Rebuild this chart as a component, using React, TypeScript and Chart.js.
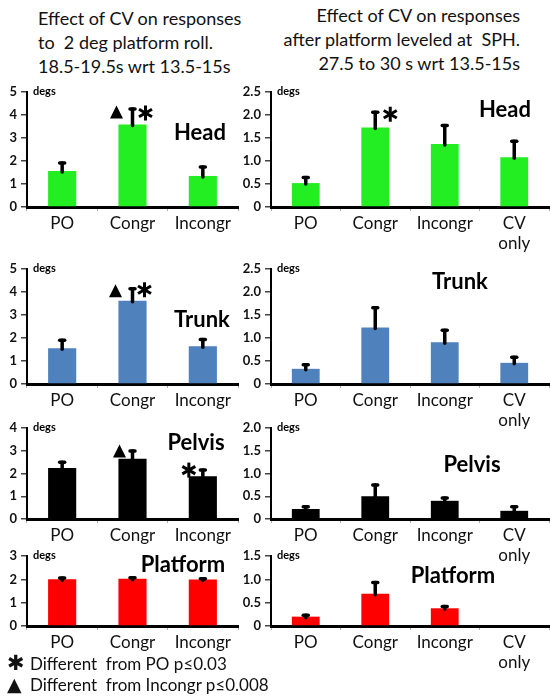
import React, { useEffect, useRef } from 'react';
import { Chart, registerables } from 'chart.js';

Chart.register(...registerables);

// categories
const leftCats = ['PO', 'Congr', 'Incongr'];
const rightCats = ['PO', 'Congr', 'Incongr', ['CV', 'only']];

// means (degs) and upper error (se)
const headLeftMeans = [1.57, 3.59, 1.35];
const headLeftSe = [0.34, 0.67, 0.39];
const headRightMeans = [0.52, 1.73, 1.37, 1.08];
const headRightSe = [0.12, 0.33, 0.4, 0.35];

const trunkLeftMeans = [1.55, 3.62, 1.64];
const trunkLeftSe = [0.35, 0.52, 0.29];
const trunkRightMeans = [0.33, 1.23, 0.91, 0.46];
const trunkRightSe = [0.09, 0.43, 0.26, 0.12];

const pelvisLeftMeans = [2.24, 2.65, 1.88];
const pelvisLeftSe = [0.26, 0.34, 0.27];
const pelvisRightMeans = [0.22, 0.5, 0.4, 0.18];
const pelvisRightSe = [0.05, 0.25, 0.06, 0.09];

const platformLeftMeans = [2.0, 2.02, 1.99];
const platformLeftSe = [0.06, 0.05, 0.03];
const platformRightMeans = [0.2, 0.69, 0.38, 0];
const platformRightSe = [0.03, 0.24, 0.04, 0];

const leftTitle = ['Effect of CV on responses', 'to  2 deg platform roll.', '18.5-19.5s wrt 13.5-15s'];
const rightTitle = ['Effect of CV on responses', 'after platform leveled at  SPH.', '27.5 to 30 s wrt 13.5-15s'];
const legendLines = ['Different  from PO p\u22640.03', 'Different  from Incongr p\u22640.008'];

const GREEN = '#22ee22';
const BLUE = '#4f81bd';
const RED = '#ff0000';
const BLACK = '#000000';

type Mark = { kind: 'tri' | 'star'; index: number; dx: number; dy: number };

type PanelProps = {
  left: number;
  top: number;
  width: number;
  height: number;
  yWidth: number;
  padRight: number;
  labels: any[];
  means: number[];
  se: number[];
  color: string;
  max: number;
  step: number;
  decimals: number;
  name: string;
  nameX: number;
  nameY: number;
  marks: Mark[];
};

function drawStar(ctx: CanvasRenderingContext2D, x: number, y: number, r: number) {
  ctx.save();
  ctx.lineWidth = 3;
  ctx.lineCap = 'butt';
  [90, 30, 150].forEach((a) => {
    const rad = (a * Math.PI) / 180;
    ctx.beginPath();
    ctx.moveTo(x - r * Math.cos(rad), y - r * Math.sin(rad));
    ctx.lineTo(x + r * Math.cos(rad), y + r * Math.sin(rad));
    ctx.stroke();
  });
  ctx.restore();
}

function drawTri(ctx: CanvasRenderingContext2D, x: number, y: number, s: number) {
  ctx.beginPath();
  ctx.moveTo(x, y - s / 2);
  ctx.lineTo(x + s / 2, y + s / 2);
  ctx.lineTo(x - s / 2, y + s / 2);
  ctx.closePath();
  ctx.fill();
}

function Panel(p: PanelProps) {
  const ref = useRef<HTMLCanvasElement>(null);

  useEffect(() => {
    const overlay = {
      id: 'overlay',
      afterDatasetsDraw(chart: any) {
        const ctx = chart.ctx as CanvasRenderingContext2D;
        const ys = chart.scales.y;
        const meta = chart.getDatasetMeta(0);
        ctx.save();
        ctx.strokeStyle = '#000';
        ctx.fillStyle = '#000';
        ctx.lineWidth = 3.5;
        ctx.lineCap = 'round';
        p.means.forEach((m, i) => {
          if (!p.se[i]) return;
          const x = meta.data[i].x;
          const y0 = ys.getPixelForValue(m);
          const y1 = ys.getPixelForValue(m + p.se[i]);
          ctx.beginPath();
          ctx.moveTo(x, y0 + 1);
          ctx.lineTo(x, y1);
          ctx.stroke();
          ctx.beginPath();
          ctx.moveTo(x - 2.5, y1);
          ctx.lineTo(x + 2.5, y1);
          ctx.stroke();
        });
        p.marks.forEach((mk) => {
          const x = meta.data[mk.index].x + mk.dx;
          const y = ys.getPixelForValue(p.means[mk.index] + p.se[mk.index]) + mk.dy;
          if (mk.kind === 'tri') drawTri(ctx, x, y, 13);
          else drawStar(ctx, x, y, 7.5);
        });
        ctx.textBaseline = 'middle';
        ctx.textAlign = 'left';
        ctx.font = 'bold 11px Lato';
        ctx.fillText('degs', chart.chartArea.left + 6, chart.chartArea.top - 1);
        ctx.textAlign = 'center';
        ctx.font = 'bold 22px Lato';
        ctx.fillText(p.name, p.nameX - p.left, p.nameY - p.top);
        ctx.restore();
      },
    };

    const chart = new Chart(ref.current as HTMLCanvasElement, {
      type: 'bar',
      data: {
        labels: p.labels,
        datasets: [
          {
            data: p.means,
            backgroundColor: p.color,
            borderWidth: 0,
            barPercentage: 0.4,
            categoryPercentage: 1,
          },
        ],
      },
      options: {
        responsive: false,
        animation: false,
        layout: { padding: { top: 12, right: p.padRight, left: 0, bottom: 0 } },
        plugins: { legend: { display: false }, tooltip: { enabled: false } },
        scales: {
          x: {
            afterFit: (s: any) => {
              s.height = 45;
            },
            border: { color: '#000', width: 3 },
            grid: { drawOnChartArea: false, tickLength: 4, color: '#aaa', offset: true },
            ticks: { font: { family: 'Lato', size: 17 }, color: '#111', padding: 2, maxRotation: 0 },
          },
          y: {
            min: 0,
            max: p.max,
            afterFit: (s: any) => {
              s.width = p.yWidth;
            },
            border: { color: '#000', width: 2 },
            grid: { drawOnChartArea: false, tickLength: 6, color: '#444', lineWidth: 1.5 },
            ticks: {
              stepSize: p.step,
              padding: 4,
              color: '#111',
              font: { family: 'Lato', size: 13, weight: 'bold' },
              callback: (v: any) => (Number(v) === 0 ? '0' : Number(v).toFixed(p.decimals)),
            },
          },
        },
      },
      plugins: [overlay],
    } as any);

    return () => chart.destroy();
  }, []);

  return (
    <canvas
      ref={ref}
      width={p.width}
      height={p.height}
      style={{ position: 'absolute', left: p.left, top: p.top, width: p.width, height: p.height }}
    />
  );
}

// row geometry: top tick pixel and zero pixel
const rows = [
  { top: 92, zero: 207 },
  { top: 269, zero: 384 },
  { top: 428, zero: 519 },
  { top: 556, zero: 626 },
];

function geom(row: number, side: 'L' | 'R') {
  const r = rows[row];
  const top = r.top - 12;
  const height = r.zero - r.top + 12 + 45;
  return side === 'L'
    ? { left: 0, top, width: 240, height, yWidth: 27, padRight: 2 }
    : { left: 236, top, width: 314, height, yWidth: 35, padRight: 1 };
}

export default function App() {
  const titleStyle: React.CSSProperties = {
    position: 'absolute',
    fontFamily: 'Lato, sans-serif',
    fontSize: 18,
    lineHeight: '24px',
    whiteSpace: 'pre',
    color: '#111',
  };
  return (
    <div style={{ position: 'relative', width: 550, height: 697, background: '#fff', overflow: 'hidden' }}>
      <style>{'body{margin:0}'}</style>
      <div style={{ ...titleStyle, left: 38, top: 6 }}>
        {leftTitle.map((t) => (
          <div key={t}>{t}</div>
        ))}
      </div>
      <div style={{ ...titleStyle, right: 30, top: 3, textAlign: 'right' }}>
        {rightTitle.map((t) => (
          <div key={t}>{t}</div>
        ))}
      </div>

      <Panel {...geom(0, 'L')} labels={leftCats} means={headLeftMeans} se={headLeftSe} color={GREEN}
        max={5} step={1} decimals={0} name="Head" nameX={200} nameY={133}
        marks={[{ kind: 'tri', index: 1, dx: -16, dy: 3 }, { kind: 'star', index: 1, dx: 13, dy: 4 }]} />
      <Panel {...geom(0, 'R')} labels={rightCats} means={headRightMeans} se={headRightSe} color={GREEN}
        max={2.5} step={0.5} decimals={1} name="Head" nameX={505} nameY={110}
        marks={[{ kind: 'star', index: 1, dx: 15, dy: 2 }]} />

      <Panel {...geom(1, 'L')} labels={leftCats} means={trunkLeftMeans} se={trunkLeftSe} color={BLUE}
        max={5} step={1} decimals={0} name="Trunk" nameX={202} nameY={320}
        marks={[{ kind: 'tri', index: 1, dx: -17, dy: 2 }, { kind: 'star', index: 1, dx: 12, dy: 1 }]} />
      <Panel {...geom(1, 'R')} labels={rightCats} means={trunkRightMeans} se={trunkRightSe} color={BLUE}
        max={2.5} step={0.5} decimals={1} name="Trunk" nameX={460} nameY={282} marks={[]} />

      <Panel {...geom(2, 'L')} labels={leftCats} means={pelvisLeftMeans} se={pelvisLeftSe} color={BLACK}
        max={4} step={1} decimals={0} name="Pelvis" nameX={196} nameY={443}
        marks={[{ kind: 'tri', index: 1, dx: -13, dy: 0 }, { kind: 'star', index: 2, dx: -14, dy: 0 }]} />
      <Panel {...geom(2, 'R')} labels={rightCats} means={pelvisRightMeans} se={pelvisRightSe} color={BLACK}
        max={2} step={0.5} decimals={1} name="Pelvis" nameX={472} nameY={465} marks={[]} />

      <Panel {...geom(3, 'L')} labels={leftCats} means={platformLeftMeans} se={platformLeftSe} color={RED}
        max={3} step={1} decimals={0} name="Platform" nameX={183} nameY={565} marks={[]} />
      <Panel {...geom(3, 'R')} labels={rightCats} means={platformRightMeans} se={platformRightSe} color={RED}
        max={1.5} step={0.5} decimals={1} name="Platform" nameX={453} nameY={576} marks={[]} />

      <div style={{ ...titleStyle, left: 7, top: 653, lineHeight: '20px', fontSize: 17 }}>
        <div>
          <span style={{ display: 'inline-block', width: 23, fontFamily: 'DejaVu Sans', fontWeight: 'bold', fontSize: 21 }}>{'\u2731'}</span>
          {legendLines[0]}
        </div>
        <div>
          <span style={{ display: 'inline-block', width: 23, fontFamily: 'DejaVu Sans', fontSize: 19 }}>{'\u25B2'}</span>
          {legendLines[1]}
        </div>
      </div>
    </div>
  );
}
